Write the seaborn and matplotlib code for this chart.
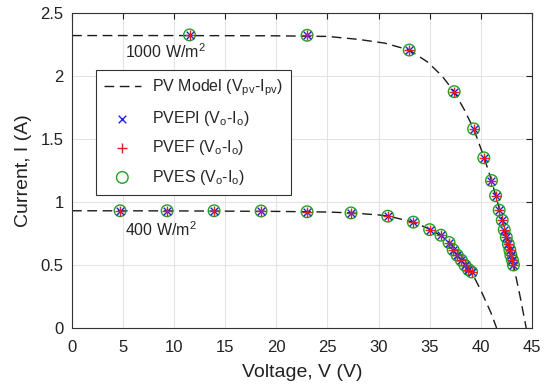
import pandas as pd
import matplotlib
matplotlib.use("Agg")
import matplotlib.pyplot as plt
import seaborn as sns

# PV model curves
model_v_1000 = [0, 10, 20, 25, 28, 30.6, 33, 34.8, 36.2, 37.4, 38.4, 39.3, 40.3, 41.05, 41.8, 42.5, 43.2, 43.8, 44.45]
model_i_1000 = [2.32, 2.32, 2.318, 2.313, 2.29, 2.26, 2.205, 2.11, 2.0, 1.875, 1.73, 1.58, 1.36, 1.17, 0.95, 0.73, 0.50, 0.27, 0.0]
model_v_400 = [0, 10, 20, 25, 27.3, 30, 31, 33.4, 35, 36, 37, 38, 39, 40, 41, 41.55]
model_i_400 = [0.93, 0.929, 0.925, 0.92, 0.913, 0.897, 0.887, 0.84, 0.784, 0.737, 0.675, 0.585, 0.46, 0.30, 0.12, 0.0]

# measured operating points (same points for all three estimators)
meas_v_1000 = [11.5, 23.0, 33.0, 37.4, 39.3, 40.3, 41.05, 41.45, 41.8, 42.1, 42.3, 42.5, 42.7, 42.85, 42.95, 43.1, 43.2]
meas_i_1000 = [2.325, 2.322, 2.205, 1.875, 1.58, 1.35, 1.17, 1.05, 0.935, 0.855, 0.78, 0.72, 0.665, 0.617, 0.577, 0.538, 0.50]
meas_v_400 = [4.7, 9.3, 13.9, 18.5, 23.0, 27.3, 30.9, 33.4, 35.0, 36.1, 36.9, 37.3, 37.7, 38.1, 38.45, 38.8, 39.1]
meas_i_400 = [0.93, 0.93, 0.93, 0.928, 0.922, 0.913, 0.887, 0.84, 0.78, 0.736, 0.678, 0.62, 0.577, 0.538, 0.498, 0.464, 0.445]

irr_labels = ["1000 W/m$^2$", "400 W/m$^2$"]

model_df = pd.concat([
    pd.DataFrame({"V": model_v_1000, "I": model_i_1000, "G": "1000"}),
    pd.DataFrame({"V": model_v_400, "I": model_i_400, "G": "400"}),
])
meas_df = pd.DataFrame({"V": meas_v_1000 + meas_v_400, "I": meas_i_1000 + meas_i_400})

sns.set_theme(style="whitegrid")
plt.rcParams["font.family"] = ["Liberation Sans", "DejaVu Sans"]
plt.rcParams["mathtext.fontset"] = "custom"
plt.rcParams["mathtext.rm"] = "Liberation Sans"
plt.rcParams["mathtext.it"] = "Liberation Sans"

fig = plt.figure(figsize=(5.5, 3.9), dpi=100)
ax = fig.add_axes([0.131, 0.159, 0.836, 0.808])

# model curves, one line per irradiance
for g in ["1000", "400"]:
    sns.lineplot(x="V", y="I", data=model_df[model_df["G"] == g], ax=ax, color="#1a1a1a",
                 lw=1.0, sort=False, estimator=None,
                 label="PV Model (V$_{pv}$-I$_{pv}$)" if g == "1000" else None)
for l in ax.lines:
    l.set_dashes([7, 4])

sns.scatterplot(x="V", y="I", data=meas_df, ax=ax, marker="o", s=70, facecolor="none",
                edgecolor="#22a022", linewidth=1.0, label="PVES (V$_o$-I$_o$)", zorder=3)
sns.scatterplot(x="V", y="I", data=meas_df, ax=ax, marker="x", s=30, color="#2020e0",
                linewidth=1.0, label="PVEPI (V$_o$-I$_o$)", zorder=4)
sns.scatterplot(x="V", y="I", data=meas_df, ax=ax, marker="+", s=45, color="#e02020",
                linewidth=1.0, label="PVEF (V$_o$-I$_o$)", zorder=5)

ax.text(5.2, 2.19, irr_labels[0], fontsize=11.5, ha="left", va="center")
ax.text(5.2, 0.78, irr_labels[1], fontsize=11.5, ha="left", va="center")

ax.set_xlim(0, 45)
ax.set_ylim(0, 2.5)
ax.set_xticks(range(0, 46, 5))
ax.set_yticks([0, 0.5, 1, 1.5, 2, 2.5])
ax.set_yticklabels(["0", "0.5", "1", "1.5", "2", "2.5"])
ax.set_xlabel("Voltage, V (V)", fontsize=14, color="#222222", labelpad=6)
ax.set_ylabel("Current, I (A)", fontsize=14, color="#222222", labelpad=6)
ax.tick_params(axis="both", labelsize=12, colors="#222222", direction="in", length=4,
               top=True, right=True, width=0.8, pad=6)
ax.tick_params(axis="x", pad=9)
ax.grid(True, color="#e3e3e3", lw=0.8)
for s in ax.spines.values():
    s.set_color("#333333")
    s.set_linewidth(0.8)

handles, labels = ax.get_legend_handles_labels()
order = [labels.index(n) for n in ["PV Model (V$_{pv}$-I$_{pv}$)", "PVEPI (V$_o$-I$_o$)",
                                   "PVEF (V$_o$-I$_o$)", "PVES (V$_o$-I$_o$)"]]
leg = ax.legend([handles[i] for i in order], [labels[i] for i in order],
                loc="upper left", bbox_to_anchor=(0.052, 0.819), borderaxespad=0, fontsize=11.5,
                frameon=True, fancybox=False, framealpha=1, edgecolor="#333333",
                handlelength=2.3, borderpad=0.5, labelspacing=0.65, handletextpad=0.7)
leg.get_frame().set_linewidth(0.8)

fig.savefig("out.png", dpi=100)
